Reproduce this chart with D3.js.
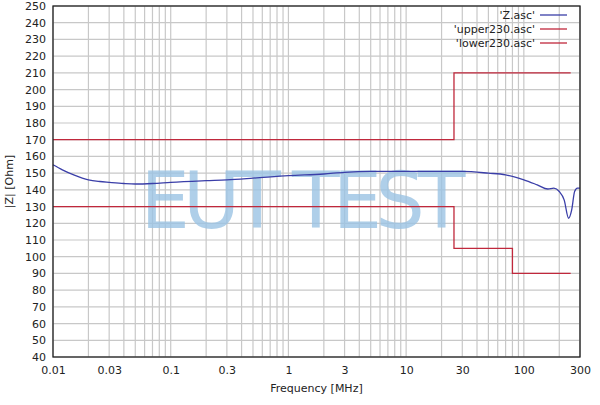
<!DOCTYPE html>
<html><head><meta charset="utf-8">
<script src="https://cdn.jsdelivr.net/npm/d3@7"></script>
<style>body{margin:0;background:#fff}text{font-family:"DejaVu Sans",sans-serif}</style>
</head><body>
<script>
// data
var zFreq = [0.01,0.012,0.015,0.02,0.025,0.03,0.04,0.05,0.07,0.1,0.2,0.3,0.5,1,2,3,5,10,20,30,50,70,100,130,160,180,200,220,240,255,270,285,300];
var zVal  = [155,152,149,146,145,144.5,143.8,143.5,143.8,144.5,145.5,146,147,148.5,149.5,150.5,151,151,151,151,150,149,146,143,140.5,141,139,134,123,128,139,141,141];
var upperFreq = [0.01,25.5,25.5,250];
var upperVal  = [170,170,210,210];
var lowerFreq = [0.01,25.5,25.5,80,80,250];
var lowerVal  = [130,130,105,105,90,90];
var xTicks = [0.01,0.03,0.1,0.3,1,3,10,30,100,300];
var yTicks = d3.range(40,251,10);

var margin = {top:6, right:20, bottom:48, left:53};
var width = 600 - margin.left - margin.right;
var height = 405 - margin.top - margin.bottom;

var svg = d3.select("body").append("svg").attr("width",600).attr("height",405)
  .append("g").attr("transform","translate("+margin.left+","+margin.top+")");

var x = d3.scaleLog().domain([0.01,300]).range([0,width]);
var y = d3.scaleLinear().domain([40,250]).range([height,0]);

// grid
var minor = [];
[0.01,0.1,1,10,100].forEach(function(d){ for(var k=1;k<10;k++){ if(d*k<=300) minor.push(d*k); } });
minor.push(300);
svg.append("g").selectAll("line").data(minor).enter().append("line")
  .attr("x1",d=>x(d)).attr("x2",d=>x(d)).attr("y1",0).attr("y2",height)
  .attr("stroke","#c8c8c8").attr("stroke-width",1.2);
svg.append("g").selectAll("line").data(yTicks).enter().append("line")
  .attr("x1",0).attr("x2",width).attr("y1",d=>y(d)).attr("y2",d=>y(d))
  .attr("stroke","#c8c8c8").attr("stroke-width",1.2);

// watermark
svg.append("text").attr("x",250).attr("y",y(117)).attr("text-anchor","middle")
  .attr("font-size",78).attr("fill","#9cc4e4").attr("opacity",0.8)
  .attr("font-family","DejaVu Sans")
  .attr("textLength",325).attr("lengthAdjust","spacing").text("EUT TEST");

var line = d3.line().x(d=>x(d[0])).y(d=>y(d[1]));
svg.append("path").datum(upperFreq.map((f,i)=>[f,upperVal[i]])).attr("d",line)
  .attr("fill","none").attr("stroke","#c0283c").attr("stroke-width",1.3);
svg.append("path").datum(lowerFreq.map((f,i)=>[f,lowerVal[i]])).attr("d",line)
  .attr("fill","none").attr("stroke","#c0283c").attr("stroke-width",1.3);
svg.append("path").datum(zFreq.map((f,i)=>[f,zVal[i]])).attr("d",d3.line().curve(d3.curveMonotoneX).x(d=>x(d[0])).y(d=>y(d[1])))
  .attr("fill","none").attr("stroke","#3a3ea8").attr("stroke-width",1.3);

// axes
svg.append("rect").attr("width",width).attr("height",height).attr("fill","none").attr("stroke","#222").attr("stroke-width",1.3);
svg.append("g").attr("transform","translate(0,"+height+")")
  .call(d3.axisBottom(x).tickValues(xTicks).tickFormat(d=>String(d)).tickSize(0).tickPadding(9))
  .call(g=>g.select(".domain").remove())
  .selectAll("text").attr("font-size",11).attr("fill","#222");
svg.append("g")
  .call(d3.axisLeft(y).tickValues(yTicks).tickSize(0).tickPadding(7))
  .call(g=>g.select(".domain").remove())
  .selectAll("text").attr("font-size",11).attr("fill","#222");

svg.append("text").attr("x",width/2).attr("y",height+35).attr("text-anchor","middle")
  .attr("font-size",11).attr("fill","#222").text("Frequency [MHz]");
svg.append("text").attr("transform","translate(-40,"+(height/2)+") rotate(-90)").attr("text-anchor","middle")
  .attr("font-size",11).attr("fill","#222").text("|Z| [Ohm]");

// legend
var legNames = ["'Z.asc'","'upper230.asc'","'lower230.asc'"];
var legColors = ["#3a3ea8","#c0283c","#c0283c"];
var leg = svg.append("g").selectAll("g").data(legNames).enter().append("g")
  .attr("transform",(d,i)=>"translate(0,"+(9+i*14)+")");
leg.append("text").attr("x",482).attr("y",4).attr("text-anchor","end").attr("font-size",11).attr("fill","#222").text(d=>d);
leg.append("line").attr("x1",487).attr("x2",514).attr("stroke",(d,i)=>legColors[i]).attr("stroke-width",1.3);
</script>
</body></html>
